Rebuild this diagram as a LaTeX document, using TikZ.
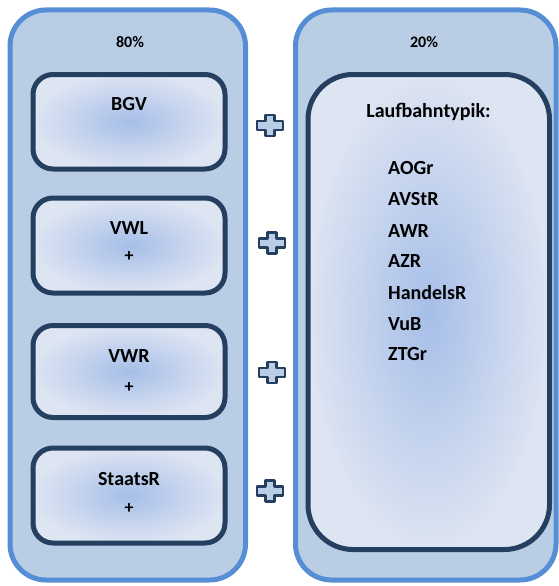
\documentclass[tikz,border=0pt]{standalone}
\usepackage{fontspec}
\setmainfont{Carlito}
\definecolor{outerfill}{HTML}{B9CDE5}
\definecolor{outerdraw}{HTML}{558ED5}
\definecolor{innerdraw}{HTML}{243F60}
\definecolor{shadein}{HTML}{A6BEE8}
\definecolor{shadeout}{HTML}{DDE4F2}
\tikzset{
  outerbox/.style={fill=outerfill, draw=outerdraw, line width=5pt, rounded corners=36pt},
  innerbox/.style={draw=innerdraw, line width=5pt, rounded corners=20pt, inner color=shadein, outer color=shadeout},
  bigbox/.style={draw=innerdraw, line width=5pt, rounded corners=45pt, inner color=shadein, outer color=shadeout},
  lbl/.style={font=\bfseries\fontsize{20}{22}\selectfont, inner sep=0pt, anchor=center},
  pct/.style={font=\bfseries\fontsize{16}{18}\selectfont, inner sep=0pt, anchor=center},
  pls/.style={font=\bfseries\fontsize{18}{20}\selectfont, inner sep=0pt, anchor=center},
  item/.style={font=\bfseries\fontsize{20}{22}\selectfont, inner sep=0pt, anchor=west},
  plussign/.pic={
    \path[draw=innerdraw, fill=outerfill, line width=2.5pt, line join=round]
      (-4.5,-10.5) -- (4.5,-10.5) -- (4.5,-4.5) -- (13,-4.5) -- (13,4.5) -- (4.5,4.5)
      -- (4.5,10.5) -- (-4.5,10.5) -- (-4.5,4.5) -- (-13,4.5) -- (-13,-4.5) -- (-4.5,-4.5) -- cycle;
  }
}
\begin{document}
\begin{tikzpicture}[x=1pt,y=-1pt]
\useasboundingbox (0,0) rectangle (559,586);
\fill[white] (0,0) rectangle (559,586);
% outer boxes
\path[outerbox] (10,10) rectangle (245.5,580);
\path[outerbox] (295.5,10) rectangle (556,580);
% inner left boxes
\path[innerbox] (33,74.5) rectangle (225,169);
\path[innerbox] (33,198) rectangle (225,293);
\path[innerbox] (33,325.5) rectangle (225,417.5);
\path[innerbox] (33,448) rectangle (225,543);
% inner right box
\path[bigbox] (308,74.5) rectangle (549.5,549.5);
% texts
\node[pct] (p80) at (130,42) {80\%};
\node[pct] (p20) at (424,42) {20\%};
\node[lbl] (bgv) at (129,104.5) {BGV};
\node[lbl] (vwl) at (129,228) {VWL};
\node[pls] (vwlp) at (129,257) {+};
\node[lbl] (vwr) at (129,356) {VWR};
\node[pls] (vwrp) at (129,388) {+};
\node[lbl] (staat) at (129,479) {StaatsR};
\node[pls] (staatp) at (129,508.5) {+};
\node[lbl] (lauf) at (428.5,112) {Laufbahntypik:};
\node[item] (i1) at (388,168) {AOGr};
\node[item] (i2) at (388,199) {AVStR};
\node[item] (i3) at (388,231) {AWR};
\node[item] (i4) at (388,261) {AZR};
\node[item] (i5) at (388,292.5) {HandelsR};
\node[item] (i6) at (388,324) {VuB};
\node[item] (i7) at (388,354.5) {ZTGr};
% plus signs
\pic at (270,125.5) {plussign};
\pic at (272,243) {plussign};
\pic at (272,372.5) {plussign};
\pic at (270,491) {plussign};
\end{tikzpicture}
\end{document}
